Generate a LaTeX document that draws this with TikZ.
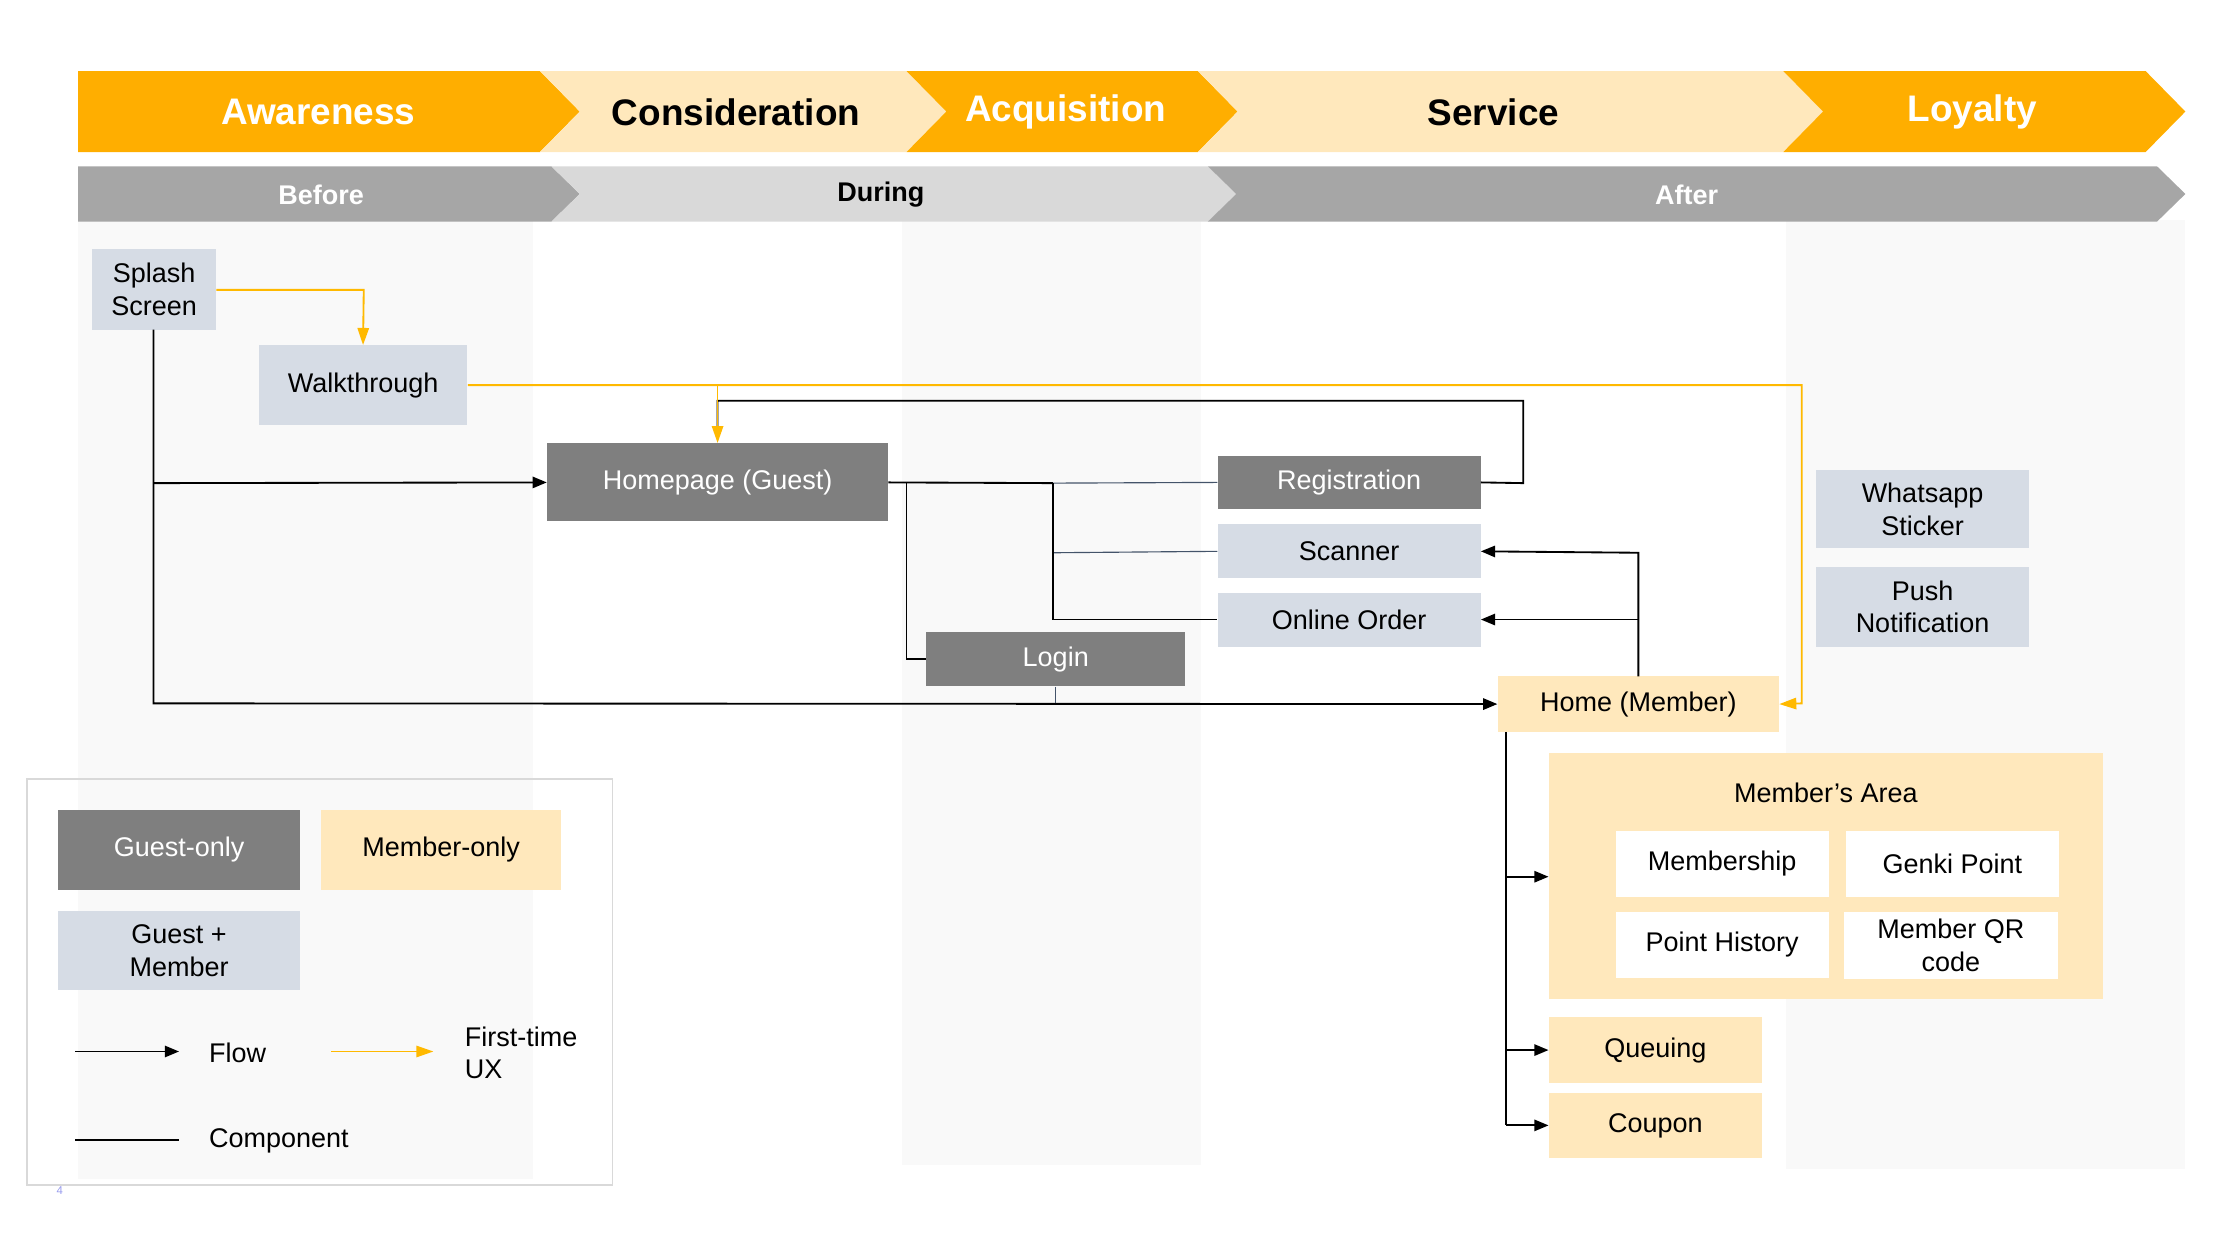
\documentclass[tikz,border=0pt]{standalone}
\usepackage{fontspec}
\setmainfont{Liberation Sans}
\usetikzlibrary{arrows.meta}
\definecolor{orng}{HTML}{FFAE00}
\definecolor{lorng}{HTML}{FFE8BC}
\definecolor{dgray}{HTML}{7F7F7F}
\definecolor{bgray}{HTML}{D6DCE5}
\definecolor{hgray}{HTML}{A6A6A6}
\definecolor{lgray}{HTML}{D9D9D9}
\definecolor{band}{HTML}{F9F9F9}
\definecolor{ylw}{HTML}{FFB900}
\definecolor{bline}{HTML}{44546A}
\tikzset{
 box/.style={inner sep=0pt,align=center,font=\fontsize{19}{23}\selectfont},
 guest/.style={box,fill=dgray,text=white},
 both/.style={box,fill=bgray},
 memb/.style={box,fill=lorng},
 wbox/.style={box,fill=white},
 flow/.style={draw=black,line width=1.3pt,-{Triangle[length=10pt,width=8pt]}},
 comp/.style={draw=black,line width=1.3pt},
 ftux/.style={draw=ylw,line width=1.3pt,-{Triangle[length=12pt,width=8pt]}},
 hdr/.style={font=\bfseries\fontsize{26}{30}\selectfont},
 hdr2/.style={font=\bfseries\fontsize{19}{23}\selectfont}
}
\newcommand{\rbox}[6]{\node[#1,minimum width=#4pt-#2pt,minimum height=#5pt-#3pt] (#6) at ({(#2+#4)/2},{(#3+#5)/2}) {};}
\begin{document}
\begin{tikzpicture}[x=1pt,y=-1pt]
\useasboundingbox (0,0) rectangle (1568,871);
% column bands
\fill[band] (55,155) rectangle (375,830);
\fill[band] (635,155) rectangle (845,820);
\fill[band] (1257,155) rectangle (1538,823);
% top chevrons
\fill[orng] (55,50) -- (380,50) -- (408,78.5) -- (380,107) -- (55,107) -- cycle;
\fill[lorng] (380,50) -- (638,50) -- (666,78.5) -- (638,107) -- (380,107) -- (408,78.5) -- cycle;
\fill[orng] (638,50) -- (843,50) -- (871,78.5) -- (843,107) -- (638,107) -- (666,78.5) -- cycle;
\fill[lorng] (843,50) -- (1255,50) -- (1283,78.5) -- (1255,107) -- (843,107) -- (871,78.5) -- cycle;
\fill[orng] (1255,50) -- (1510,50) -- (1538,78.5) -- (1510,107) -- (1255,107) -- (1283,78.5) -- cycle;
\node[hdr,text=white] (aw) at (224,79) {Awareness};
\node[hdr] (co) at (518,79) {Consideration};
\node[hdr,text=white] (ac) at (750,79) {Acquisition};
\node[hdr] (se) at (1051,79) {Service};
\node[hdr,text=white] (lo) at (1388,79) {Loyalty};
% phase band
\fill[hgray] (55,117) -- (388,117) -- (408,136.5) -- (388,156) -- (55,156) -- cycle;
\fill[lgray] (388,117) -- (850,117) -- (870,136.5) -- (850,156) -- (388,156) -- (408,136.5) -- cycle;
\fill[hgray] (850,117) -- (1518,117) -- (1538,136.5) -- (1518,156) -- (850,156) -- (870,136.5) -- cycle;
\node[hdr2,text=white] (bf) at (226,137) {Before};
\node[hdr2] (du) at (620,137) {During};
\node[hdr2,text=white] (af) at (1187,137) {After};
% nodes
\rbox{both}{65}{175}{152}{232}{splash}\node[box] at (splash) {Splash\\Screen};
\rbox{both}{182}{243}{329}{299}{walk}\node[box] at (walk) {Walkthrough};
\rbox{guest}{385}{312}{625}{367}{home}\node[box,text=white] at (home) {Homepage (Guest)};
\rbox{guest}{857}{321}{1042}{358}{reg}\node[box,text=white] at (reg) {Registration};
\rbox{both}{857}{369}{1042}{407}{scan}\node[box] at (scan) {Scanner};
\rbox{both}{857}{417}{1042}{455}{order}\node[box] at (order) {Online Order};
\rbox{guest}{652}{445}{834}{483}{login}\node[box,text=white] at (login) {Login};
\rbox{memb}{1054}{476}{1252}{515}{hm}\node[box] at (hm) {Home (Member)};
\rbox{both}{1278}{331}{1428}{386}{wa}\node[box] at (wa) {Whatsapp\\Sticker};
\rbox{both}{1278}{399}{1428}{455}{push}\node[box] at (push) {Push\\Notification};
\rbox{memb}{1090}{530}{1480}{703}{area}\node[box] (areat) at (1285,558) {Member’s Area};
\rbox{wbox}{1137}{585}{1287}{631}{ms}\node[box] at (ms) {Membership};
\rbox{wbox}{1299}{585}{1449}{631}{gp}\node[box] at (gp) {Genki Point};
\rbox{wbox}{1137}{642}{1287}{688}{ph}\node[box] at (ph) {Point History};
\rbox{wbox}{1298}{642}{1448}{689}{qr}\node[box] at (qr) {Member QR\\code};
\rbox{memb}{1090}{716}{1240}{762}{qu}\node[box] at (qu) {Queuing};
\rbox{memb}{1090}{769}{1240}{815}{cp}\node[box] at (cp) {Coupon};
% connectors
\draw[comp] (reg.east) -- (1072,340) -- (1072,282) -- (505,282) -- (505,300);
\draw[ftux] (splash.east |- 0,204) -- (256,204) -- (walk.north);
\draw[ftux] (walk.east) -- (1268,271) -- (1268,495) -- (hm.east);
\draw[ftux] (505,271) -- (home.north);
\draw[flow] (108,232) -- (108,495) -- (hm.west);
\draw[flow] (108,340) -- (home.west);
\draw[comp] (home.east) -- (741,340);
\draw[draw=bline,line width=0.8pt] (741,340) -- (reg.west);
\draw[draw=bline,line width=0.8pt] (741,389) -- (scan.west);
\draw[comp] (741,340) -- (741,436) -- (order.west);
\draw[comp] (638,340) -- (638,464) -- (login.west);
\draw[draw=bline,line width=0.8pt] (login.south) -- (743,495);
\draw[flow] (1153,476) -- (1153,389) -- (scan.east);
\draw[flow] (1153,436) -- (order.east);
\draw[comp] (1060,515) -- (1060,792);
\draw[flow] (1060,617) -- (area.west |- 0,617);
\draw[flow] (1060,739) -- (qu.west);
\draw[flow] (1060,792) -- (cp.west);
% legend
\node[draw=lgray,line width=1.3pt,minimum width=412pt,minimum height=286pt,inner sep=0pt] (leg) at (225,691) {};
\rbox{guest}{41}{570}{211}{626}{lg1}\node[box,text=white] at (lg1) {Guest-only};
\rbox{memb}{226}{570}{395}{626}{lg2}\node[box] at (lg2) {Member-only};
\rbox{both}{41}{641}{211}{697}{lg3}\node[box] at (lg3) {Guest +\\Member};
\coordinate (f1) at (53,740); \coordinate (f2) at (126,740);
\draw[flow] (f1) -- (f2);
\node[box,anchor=west] (flt) at (147,741) {Flow};
\coordinate (y1) at (233,740); \coordinate (y2) at (305,740);
\draw[ftux] (y1) -- (y2);
\node[box,anchor=west,align=left] (ftt) at (327,741) {First-time\\UX};
\coordinate (c1) at (53,802); \coordinate (c2) at (126,802);
\draw[comp] (c1) -- (c2);
\node[box,anchor=west] (cpt) at (147,803) {Component};
\node[font=\fontsize{8}{9}\selectfont,text=bgray!70!blue] (pg) at (42,838) {4};
\end{tikzpicture}
\end{document}
